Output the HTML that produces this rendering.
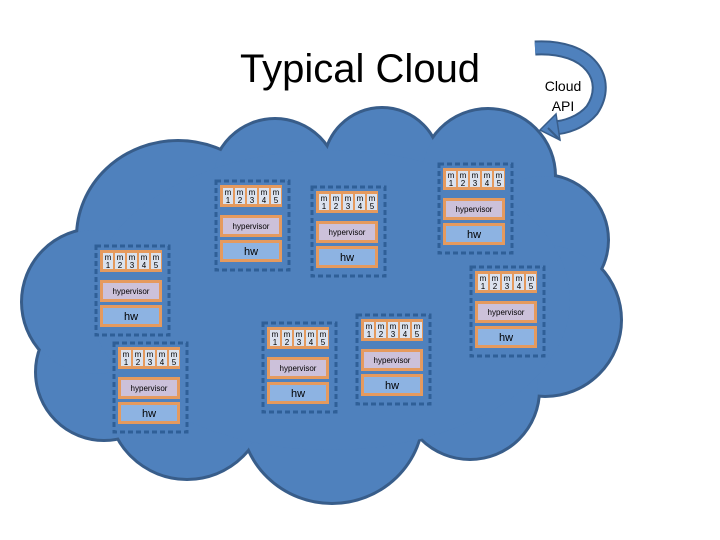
<!DOCTYPE html>
<html><head><meta charset="utf-8"><style>
html,body{margin:0;padding:0;background:#fff}
svg{display:block}
text{font-family:"Liberation Sans",sans-serif}
</style></head><body>
<svg width="720" height="540" viewBox="0 0 720 540" xmlns="http://www.w3.org/2000/svg">
<text x="360" y="82" font-size="40" text-anchor="middle" fill="#000">Typical Cloud</text>
<!-- API arrow -->
<path d="M535,48 C590,45 612,80 592,110 C582,122 565,128 552,128" fill="none" stroke="#385d8a" stroke-width="15"/>
<path d="M535,48 C590,45 612,80 592,110 C582,122 565,128 552,128" fill="none" stroke="#4f81bd" stroke-width="11"/>
<path d="M556,114 L540,130 L560,140 Z" fill="#4f81bd" stroke="#385d8a" stroke-width="1.5"/>
<text x="563" y="91" font-size="14" text-anchor="middle" fill="#000">Cloud</text>
<text x="563" y="111" font-size="14" text-anchor="middle" fill="#000">API</text>
<!-- cloud -->
<g stroke="#385d8a" stroke-width="6" fill="#385d8a">
<ellipse cx="178" cy="237" rx="100" ry="95"/>
<circle cx="275" cy="182" r="62"/>
<circle cx="382" cy="166" r="57"/>
<circle cx="488" cy="176" r="66"/>
<circle cx="543" cy="240" r="64"/>
<circle cx="545" cy="320" r="75"/>
<circle cx="470" cy="390" r="68"/>
<ellipse cx="332" cy="414" rx="90" ry="88"/>
<circle cx="187" cy="400" r="78"/>
<circle cx="104" cy="372" r="67"/>
<circle cx="95" cy="302" r="72"/>
</g>
<g fill="#4f81bd">
<ellipse cx="178" cy="237" rx="100" ry="95"/>
<circle cx="275" cy="182" r="62"/>
<circle cx="382" cy="166" r="57"/>
<circle cx="488" cy="176" r="66"/>
<circle cx="543" cy="240" r="64"/>
<circle cx="545" cy="320" r="75"/>
<circle cx="470" cy="390" r="68"/>
<ellipse cx="332" cy="414" rx="90" ry="88"/>
<circle cx="187" cy="400" r="78"/>
<circle cx="104" cy="372" r="67"/>
<circle cx="95" cy="302" r="72"/>
<ellipse cx="330" cy="300" rx="240" ry="150"/>
</g>
<path d="M548,128 L560,140" stroke="#385d8a" stroke-width="2"/>
<!-- servers -->
<g font-size="8" text-anchor="middle">
<g transform="translate(215,180)">
<rect x="1" y="1" width="73" height="89" fill="none" stroke="#2f5f97" stroke-width="3" stroke-dasharray="5,3"/>
<rect x="5" y="5" width="62" height="22" fill="#e59a5e"/>
<rect x="8" y="8" width="10" height="16" fill="#dbe2ee"/><rect x="20" y="8" width="10" height="16" fill="#dbe2ee"/><rect x="32" y="8" width="10" height="16" fill="#dbe2ee"/><rect x="44" y="8" width="10" height="16" fill="#dbe2ee"/><rect x="56" y="8" width="10" height="16" fill="#dbe2ee"/>
<text x="13" y="15">m</text><text x="25" y="15">m</text><text x="37" y="15">m</text><text x="49" y="15">m</text><text x="61" y="15">m</text>
<text x="13" y="23">1</text><text x="25" y="23">2</text><text x="37" y="23">3</text><text x="49" y="23">4</text><text x="61" y="23">5</text>
<rect x="5" y="35" width="62" height="22" fill="#e59a5e"/><rect x="8" y="38" width="56" height="16" fill="#ccc1da"/><text x="36" y="49">hypervisor</text>
<rect x="5" y="60" width="62" height="22" fill="#e59a5e"/><rect x="8" y="63" width="56" height="16" fill="#8db3e2"/><text x="36" y="75" font-size="11">hw</text>
</g>
<g transform="translate(311,186)">
<rect x="1" y="1" width="73" height="89" fill="none" stroke="#2f5f97" stroke-width="3" stroke-dasharray="5,3"/>
<rect x="5" y="5" width="62" height="22" fill="#e59a5e"/>
<rect x="8" y="8" width="10" height="16" fill="#dbe2ee"/><rect x="20" y="8" width="10" height="16" fill="#dbe2ee"/><rect x="32" y="8" width="10" height="16" fill="#dbe2ee"/><rect x="44" y="8" width="10" height="16" fill="#dbe2ee"/><rect x="56" y="8" width="10" height="16" fill="#dbe2ee"/>
<text x="13" y="15">m</text><text x="25" y="15">m</text><text x="37" y="15">m</text><text x="49" y="15">m</text><text x="61" y="15">m</text>
<text x="13" y="23">1</text><text x="25" y="23">2</text><text x="37" y="23">3</text><text x="49" y="23">4</text><text x="61" y="23">5</text>
<rect x="5" y="35" width="62" height="22" fill="#e59a5e"/><rect x="8" y="38" width="56" height="16" fill="#ccc1da"/><text x="36" y="49">hypervisor</text>
<rect x="5" y="60" width="62" height="22" fill="#e59a5e"/><rect x="8" y="63" width="56" height="16" fill="#8db3e2"/><text x="36" y="75" font-size="11">hw</text>
</g>
<g transform="translate(438,163)">
<rect x="1" y="1" width="73" height="89" fill="none" stroke="#2f5f97" stroke-width="3" stroke-dasharray="5,3"/>
<rect x="5" y="5" width="62" height="22" fill="#e59a5e"/>
<rect x="8" y="8" width="10" height="16" fill="#dbe2ee"/><rect x="20" y="8" width="10" height="16" fill="#dbe2ee"/><rect x="32" y="8" width="10" height="16" fill="#dbe2ee"/><rect x="44" y="8" width="10" height="16" fill="#dbe2ee"/><rect x="56" y="8" width="10" height="16" fill="#dbe2ee"/>
<text x="13" y="15">m</text><text x="25" y="15">m</text><text x="37" y="15">m</text><text x="49" y="15">m</text><text x="61" y="15">m</text>
<text x="13" y="23">1</text><text x="25" y="23">2</text><text x="37" y="23">3</text><text x="49" y="23">4</text><text x="61" y="23">5</text>
<rect x="5" y="35" width="62" height="22" fill="#e59a5e"/><rect x="8" y="38" width="56" height="16" fill="#ccc1da"/><text x="36" y="49">hypervisor</text>
<rect x="5" y="60" width="62" height="22" fill="#e59a5e"/><rect x="8" y="63" width="56" height="16" fill="#8db3e2"/><text x="36" y="75" font-size="11">hw</text>
</g>
<g transform="translate(95,245)">
<rect x="1" y="1" width="73" height="89" fill="none" stroke="#2f5f97" stroke-width="3" stroke-dasharray="5,3"/>
<rect x="5" y="5" width="62" height="22" fill="#e59a5e"/>
<rect x="8" y="8" width="10" height="16" fill="#dbe2ee"/><rect x="20" y="8" width="10" height="16" fill="#dbe2ee"/><rect x="32" y="8" width="10" height="16" fill="#dbe2ee"/><rect x="44" y="8" width="10" height="16" fill="#dbe2ee"/><rect x="56" y="8" width="10" height="16" fill="#dbe2ee"/>
<text x="13" y="15">m</text><text x="25" y="15">m</text><text x="37" y="15">m</text><text x="49" y="15">m</text><text x="61" y="15">m</text>
<text x="13" y="23">1</text><text x="25" y="23">2</text><text x="37" y="23">3</text><text x="49" y="23">4</text><text x="61" y="23">5</text>
<rect x="5" y="35" width="62" height="22" fill="#e59a5e"/><rect x="8" y="38" width="56" height="16" fill="#ccc1da"/><text x="36" y="49">hypervisor</text>
<rect x="5" y="60" width="62" height="22" fill="#e59a5e"/><rect x="8" y="63" width="56" height="16" fill="#8db3e2"/><text x="36" y="75" font-size="11">hw</text>
</g>
<g transform="translate(470,266)">
<rect x="1" y="1" width="73" height="89" fill="none" stroke="#2f5f97" stroke-width="3" stroke-dasharray="5,3"/>
<rect x="5" y="5" width="62" height="22" fill="#e59a5e"/>
<rect x="8" y="8" width="10" height="16" fill="#dbe2ee"/><rect x="20" y="8" width="10" height="16" fill="#dbe2ee"/><rect x="32" y="8" width="10" height="16" fill="#dbe2ee"/><rect x="44" y="8" width="10" height="16" fill="#dbe2ee"/><rect x="56" y="8" width="10" height="16" fill="#dbe2ee"/>
<text x="13" y="15">m</text><text x="25" y="15">m</text><text x="37" y="15">m</text><text x="49" y="15">m</text><text x="61" y="15">m</text>
<text x="13" y="23">1</text><text x="25" y="23">2</text><text x="37" y="23">3</text><text x="49" y="23">4</text><text x="61" y="23">5</text>
<rect x="5" y="35" width="62" height="22" fill="#e59a5e"/><rect x="8" y="38" width="56" height="16" fill="#ccc1da"/><text x="36" y="49">hypervisor</text>
<rect x="5" y="60" width="62" height="22" fill="#e59a5e"/><rect x="8" y="63" width="56" height="16" fill="#8db3e2"/><text x="36" y="75" font-size="11">hw</text>
</g>
<g transform="translate(262,322)">
<rect x="1" y="1" width="73" height="89" fill="none" stroke="#2f5f97" stroke-width="3" stroke-dasharray="5,3"/>
<rect x="5" y="5" width="62" height="22" fill="#e59a5e"/>
<rect x="8" y="8" width="10" height="16" fill="#dbe2ee"/><rect x="20" y="8" width="10" height="16" fill="#dbe2ee"/><rect x="32" y="8" width="10" height="16" fill="#dbe2ee"/><rect x="44" y="8" width="10" height="16" fill="#dbe2ee"/><rect x="56" y="8" width="10" height="16" fill="#dbe2ee"/>
<text x="13" y="15">m</text><text x="25" y="15">m</text><text x="37" y="15">m</text><text x="49" y="15">m</text><text x="61" y="15">m</text>
<text x="13" y="23">1</text><text x="25" y="23">2</text><text x="37" y="23">3</text><text x="49" y="23">4</text><text x="61" y="23">5</text>
<rect x="5" y="35" width="62" height="22" fill="#e59a5e"/><rect x="8" y="38" width="56" height="16" fill="#ccc1da"/><text x="36" y="49">hypervisor</text>
<rect x="5" y="60" width="62" height="22" fill="#e59a5e"/><rect x="8" y="63" width="56" height="16" fill="#8db3e2"/><text x="36" y="75" font-size="11">hw</text>
</g>
<g transform="translate(356,314)">
<rect x="1" y="1" width="73" height="89" fill="none" stroke="#2f5f97" stroke-width="3" stroke-dasharray="5,3"/>
<rect x="5" y="5" width="62" height="22" fill="#e59a5e"/>
<rect x="8" y="8" width="10" height="16" fill="#dbe2ee"/><rect x="20" y="8" width="10" height="16" fill="#dbe2ee"/><rect x="32" y="8" width="10" height="16" fill="#dbe2ee"/><rect x="44" y="8" width="10" height="16" fill="#dbe2ee"/><rect x="56" y="8" width="10" height="16" fill="#dbe2ee"/>
<text x="13" y="15">m</text><text x="25" y="15">m</text><text x="37" y="15">m</text><text x="49" y="15">m</text><text x="61" y="15">m</text>
<text x="13" y="23">1</text><text x="25" y="23">2</text><text x="37" y="23">3</text><text x="49" y="23">4</text><text x="61" y="23">5</text>
<rect x="5" y="35" width="62" height="22" fill="#e59a5e"/><rect x="8" y="38" width="56" height="16" fill="#ccc1da"/><text x="36" y="49">hypervisor</text>
<rect x="5" y="60" width="62" height="22" fill="#e59a5e"/><rect x="8" y="63" width="56" height="16" fill="#8db3e2"/><text x="36" y="75" font-size="11">hw</text>
</g>
<g transform="translate(113,342)">
<rect x="1" y="1" width="73" height="89" fill="none" stroke="#2f5f97" stroke-width="3" stroke-dasharray="5,3"/>
<rect x="5" y="5" width="62" height="22" fill="#e59a5e"/>
<rect x="8" y="8" width="10" height="16" fill="#dbe2ee"/><rect x="20" y="8" width="10" height="16" fill="#dbe2ee"/><rect x="32" y="8" width="10" height="16" fill="#dbe2ee"/><rect x="44" y="8" width="10" height="16" fill="#dbe2ee"/><rect x="56" y="8" width="10" height="16" fill="#dbe2ee"/>
<text x="13" y="15">m</text><text x="25" y="15">m</text><text x="37" y="15">m</text><text x="49" y="15">m</text><text x="61" y="15">m</text>
<text x="13" y="23">1</text><text x="25" y="23">2</text><text x="37" y="23">3</text><text x="49" y="23">4</text><text x="61" y="23">5</text>
<rect x="5" y="35" width="62" height="22" fill="#e59a5e"/><rect x="8" y="38" width="56" height="16" fill="#ccc1da"/><text x="36" y="49">hypervisor</text>
<rect x="5" y="60" width="62" height="22" fill="#e59a5e"/><rect x="8" y="63" width="56" height="16" fill="#8db3e2"/><text x="36" y="75" font-size="11">hw</text>
</g>
</g>
</svg>
</body></html>
